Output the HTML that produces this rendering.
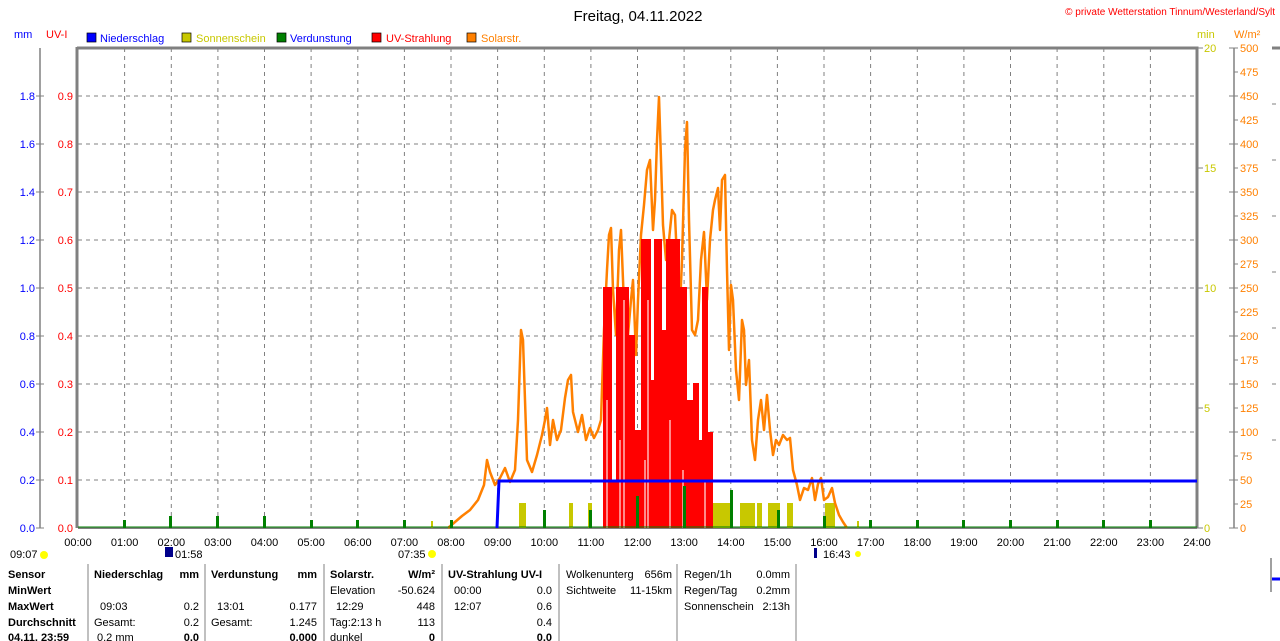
<!DOCTYPE html>
<html><head><meta charset="utf-8"><style>
body{margin:0;background:#fff;width:1280px;height:641px;overflow:hidden}
svg{display:block;font-family:"Liberation Sans",sans-serif}
</style></head><body>
<svg width="1280" height="641" viewBox="0 0 1280 641" font-size="11">
<text x="638" y="21" font-size="15" text-anchor="middle" fill="#000">Freitag, 04.11.2022</text>
<text x="1275" y="15" font-size="10" text-anchor="end" fill="#f00">© private Wetterstation Tinnum/Westerland/Sylt</text>
<text x="14" y="38" fill="#00f">mm</text>
<text x="46" y="38" fill="#f00">UV-I</text>
<rect x="87" y="33" width="9" height="9" fill="#00f" stroke="#000" stroke-width="0.7"/><text x="100" y="42" fill="#00f">Niederschlag</text>
<rect x="182" y="33" width="9" height="9" fill="#c8c800" stroke="#000" stroke-width="0.7"/><text x="196" y="42" fill="#c8c800">Sonnenschein</text>
<rect x="277" y="33" width="9" height="9" fill="#008000" stroke="#000" stroke-width="0.7"/><text x="290" y="42" fill="#00f">Verdunstung</text>
<rect x="372" y="33" width="9" height="9" fill="#f00" stroke="#000" stroke-width="0.7"/><text x="386" y="42" fill="#f00">UV-Strahlung</text>
<rect x="467" y="33" width="9" height="9" fill="#ff8000" stroke="#000" stroke-width="0.7"/><text x="481" y="42" fill="#ff8000">Solarstr.</text>
<text x="1197" y="38" fill="#c8c800">min</text>
<text x="1234" y="38" fill="#ff8000">W/m²</text>

<!-- grid -->
<g stroke="#808080" stroke-dasharray="4,4" stroke-width="1">
<path d="M78 96H1197M78 144H1197M78 192H1197M78 240H1197M78 288H1197M78 336H1197M78 384H1197M78 432H1197M78 480H1197"/>
<path d="M124.6 48V528M171.3 48V528M217.9 48V528M264.5 48V528M311.1 48V528M357.8 48V528M404.4 48V528M451 48V528M497.6 48V528M544.3 48V528M590.9 48V528M637.5 48V528M684.1 48V528M730.8 48V528M777.4 48V528M824 48V528M870.6 48V528M917.3 48V528M963.9 48V528M1010.5 48V528M1057.1 48V528M1103.8 48V528M1150.4 48V528"/>
<path d="M1272 48H1280M1272 104H1280M1272 160H1280M1272 216H1280M1272 272H1280M1272 328H1280M1272 384H1280M1272 440H1280"/>
</g>
<!-- axes -->
<g stroke="#808080">
<path d="M40 48V528M1234 48V528M1271 558V592" stroke-width="1.5"/>
<path d="M77 48H1197V528M77 47V528" stroke-width="3" fill="none"/>
<path d="M78 528H1197" stroke-width="2"/>
<path d="M36 96H44M36 144H44M36 192H44M36 240H44M36 288H44M36 336H44M36 384H44M36 432H44M36 480H44M36 528H44M1197 48h6M1197 168h6M1197 288h6M1197 408h6M1197 528h6"/>
<path d="M1229 48h9M1234 72h4M1229 96h9M1234 120h4M1229 144h9M1234 168h4M1229 192h9M1234 216h4M1229 240h9M1234 264h4M1229 288h9M1234 312h4M1229 336h9M1234 360h4M1229 384h9M1234 408h4M1229 432h9M1234 456h4M1229 480h9M1234 504h4M1229 528h9"/>
<path d="M1272 48H1280" stroke-width="3"/>
</g>
<g fill="#00f" text-anchor="end">
<text x="35" y="100">1.8</text><text x="35" y="148">1.6</text><text x="35" y="196">1.4</text><text x="35" y="244">1.2</text><text x="35" y="292">1.0</text><text x="35" y="340">0.8</text><text x="35" y="388">0.6</text><text x="35" y="436">0.4</text><text x="35" y="484">0.2</text><text x="35" y="532">0.0</text>
</g>
<g fill="#f00" text-anchor="end">
<text x="73" y="100">0.9</text><text x="73" y="148">0.8</text><text x="73" y="196">0.7</text><text x="73" y="244">0.6</text><text x="73" y="292">0.5</text><text x="73" y="340">0.4</text><text x="73" y="388">0.3</text><text x="73" y="436">0.2</text><text x="73" y="484">0.1</text><text x="73" y="532">0.0</text>
</g>
<g fill="#c8c800"><text x="1204" y="52">20</text><text x="1204" y="172">15</text><text x="1204" y="292">10</text><text x="1204" y="412">5</text><text x="1204" y="532">0</text></g>
<g fill="#ff8000" font-size="11">
<text x="1240" y="52">500</text><text x="1240" y="76">475</text><text x="1240" y="100">450</text><text x="1240" y="124">425</text><text x="1240" y="148">400</text><text x="1240" y="172">375</text><text x="1240" y="196">350</text><text x="1240" y="220">325</text><text x="1240" y="244">300</text><text x="1240" y="268">275</text><text x="1240" y="292">250</text><text x="1240" y="316">225</text><text x="1240" y="340">200</text><text x="1240" y="364">175</text><text x="1240" y="388">150</text><text x="1240" y="412">125</text><text x="1240" y="436">100</text><text x="1240" y="460">75</text><text x="1240" y="484">50</text><text x="1240" y="508">25</text><text x="1240" y="532">0</text>
</g>
<g fill="#000" text-anchor="middle">
<text x="78" y="546">00:00</text><text x="124.6" y="546">01:00</text><text x="171.3" y="546">02:00</text><text x="217.9" y="546">03:00</text><text x="264.5" y="546">04:00</text><text x="311.1" y="546">05:00</text><text x="357.8" y="546">06:00</text><text x="404.4" y="546">07:00</text><text x="451" y="546">08:00</text><text x="497.6" y="546">09:00</text><text x="544.3" y="546">10:00</text><text x="590.9" y="546">11:00</text><text x="637.5" y="546">12:00</text><text x="684.1" y="546">13:00</text><text x="730.8" y="546">14:00</text><text x="777.4" y="546">15:00</text><text x="824" y="546">16:00</text><text x="870.6" y="546">17:00</text><text x="917.3" y="546">18:00</text><text x="963.9" y="546">19:00</text><text x="1010.5" y="546">20:00</text><text x="1057.1" y="546">21:00</text><text x="1103.8" y="546">22:00</text><text x="1150.4" y="546">23:00</text><text x="1197" y="546">24:00</text>
</g>

<!-- sunshine -->
<g fill="#c8c800">
<rect x="519" y="503" width="7" height="25"/><rect x="569" y="503" width="4" height="25"/><rect x="588" y="503" width="4" height="25"/>
<rect x="605" y="503" width="105" height="25"/><rect x="713" y="503" width="17" height="25"/><rect x="740" y="503" width="15" height="25"/><rect x="757" y="503" width="5" height="25"/><rect x="768" y="503" width="12" height="25"/><rect x="787" y="503" width="6" height="25"/><rect x="825" y="503" width="10" height="25"/>
<rect x="431" y="521" width="2" height="7"/><rect x="857" y="521" width="2" height="7"/>
</g>

<!-- solar -->
<polyline fill="none" stroke="#ff8000" stroke-width="2.5" stroke-linejoin="round" points="448,528 455,522 462,516 470,510 478,500 484,485 487,460 490,472 495,485 500,478 505,468 510,482 515,470 518,420 521,330 523,340 525,400 527,460 532,472 537,455 542,435 545,420 547,408 550,445 553,420 557,440 561,430 565,398 568,380 571,375 573,412 578,432 582,415 586,440 590,428 594,438 598,430 601,420 604,330 607,270 609,235 611,228 613,290 616,335 619,250 621,230 624,305 628,335 631,300 633,280 636,355 638,300 641,235 644,205 647,170 650,160 653,230 655,200 657,140 659,97 661,160 663,225 666,260 669,240 672,210 675,215 677,260 679,330 682,260 685,150 687,122 689,220 692,330 695,335 698,320 701,260 704,232 707,300 710,240 713,210 715,200 718,188 720,230 722,180 725,175 727,270 729,350 731,285 733,300 736,370 739,400 742,320 744,330 746,385 749,360 752,440 755,460 758,420 761,400 764,430 767,395 770,430 773,455 776,440 779,445 783,435 787,440 790,438 793,470 797,485 800,500 804,488 808,490 812,478 815,500 818,484 821,478 824,500 828,497 832,488 835,503 839,515 843,522 847,528"/>

<!-- UV -->
<g fill="#f00">
<rect x="603" y="287" width="9" height="241"/>
<rect x="616" y="287" width="13" height="241"/>
<rect x="629" y="335" width="6" height="193"/>
<rect x="641" y="239" width="10" height="289"/>
<rect x="654" y="239" width="8" height="289"/>
<rect x="666" y="239" width="14" height="289"/>
<rect x="675" y="287" width="12" height="241"/>
<rect x="693" y="383" width="6" height="145"/>
<rect x="702" y="287" width="6" height="241"/>
<rect x="708" y="432" width="5" height="96"/>
<rect x="612" y="480" width="4" height="48"/><rect x="635" y="430" width="6" height="98"/><rect x="651" y="380" width="3" height="148"/><rect x="662" y="330" width="4" height="198"/><rect x="687" y="400" width="6" height="128"/><rect x="699" y="440" width="3" height="88"/>
</g>
<g stroke="#fff" stroke-width="1.2" opacity="0.9">
<path d="M607 400V528M620 440V528M624 300V528M645 460V528M648 300V528M670 420V528M683 470V528M705 480V528"/>
</g>

<!-- evaporation -->
<g fill="#008000">
<rect x="123" y="520" width="3" height="8"/><rect x="169" y="516" width="3" height="12"/><rect x="216" y="516" width="3" height="12"/><rect x="263" y="516" width="3" height="12"/><rect x="310" y="520" width="3" height="8"/><rect x="356" y="520" width="3" height="8"/><rect x="403" y="520" width="3" height="8"/><rect x="450" y="520" width="3" height="8"/><rect x="543" y="510" width="3" height="18"/><rect x="589" y="510" width="3" height="18"/><rect x="636" y="496" width="3" height="32"/><rect x="683" y="486" width="3" height="42"/><rect x="730" y="490" width="3" height="38"/><rect x="777" y="510" width="3" height="18"/><rect x="823" y="516" width="3" height="12"/><rect x="869" y="520" width="3" height="8"/><rect x="916" y="520" width="3" height="8"/><rect x="962" y="520" width="3" height="8"/><rect x="1009" y="520" width="3" height="8"/><rect x="1056" y="520" width="3" height="8"/><rect x="1102" y="520" width="3" height="8"/><rect x="1149" y="520" width="3" height="8"/>
</g>
<path d="M78 527H1197" stroke="#008000" stroke-width="1"/>
<!-- precip -->
<path d="M497 528L499 481H1197" fill="none" stroke="#00f" stroke-width="3"/>
<path d="M1272 579H1280" stroke="#00f" stroke-width="3"/>

<!-- sunrise labels -->
<text x="10" y="558" fill="#000" font-size="11">09:07</text><circle cx="44" cy="555" r="4" fill="#ff0"/>
<rect x="165" y="547" width="8" height="10" fill="#00008b"/><text x="175" y="558" fill="#000">01:58</text>
<text x="398" y="558" fill="#000">07:35</text><circle cx="432" cy="554" r="4" fill="#ff0"/>
<rect x="814" y="548" width="3" height="10" fill="#00008b"/><text x="823" y="558" fill="#000">16:43</text><circle cx="858" cy="554" r="3" fill="#ff0"/>

<!-- table -->
<g stroke="#808080" stroke-width="1"><path d="M88 564V641M205 564V641M324 564V641M442 564V641M559 564V641M677 564V641M796 564V641"/></g>
<g fill="#000" font-size="11">
<g font-weight="bold"><text x="8" y="578">Sensor</text><text x="8" y="594">MinWert</text><text x="8" y="610">MaxWert</text><text x="8" y="626">Durchschnitt</text><text x="8" y="641">04.11. 23:59</text>
<text x="94" y="578">Niederschlag</text><text x="199" y="578" text-anchor="end">mm</text>
<text x="211" y="578">Verdunstung</text><text x="317" y="578" text-anchor="end">mm</text>
<text x="330" y="578">Solarstr.</text><text x="435" y="578" text-anchor="end">W/m²</text>
<text x="448" y="578">UV-Strahlung UV-I</text>
<text x="199" y="641" text-anchor="end">0.0</text><text x="317" y="641" text-anchor="end">0.000</text><text x="435" y="641" text-anchor="end">0</text><text x="552" y="641" text-anchor="end">0.0</text></g>
<text x="100" y="610">09:03</text><text x="199" y="610" text-anchor="end">0.2</text>
<text x="94" y="626">Gesamt:</text><text x="199" y="626" text-anchor="end">0.2</text><text x="97" y="641">0.2 mm</text>
<text x="217" y="610">13:01</text><text x="317" y="610" text-anchor="end">0.177</text>
<text x="211" y="626">Gesamt:</text><text x="317" y="626" text-anchor="end">1.245</text>
<text x="330" y="594">Elevation</text><text x="435" y="594" text-anchor="end">-50.624</text>
<text x="336" y="610">12:29</text><text x="435" y="610" text-anchor="end">448</text>
<text x="330" y="626">Tag:2:13 h</text><text x="435" y="626" text-anchor="end">113</text><text x="330" y="641">dunkel</text>
<text x="454" y="594">00:00</text><text x="552" y="594" text-anchor="end">0.0</text>
<text x="454" y="610">12:07</text><text x="552" y="610" text-anchor="end">0.6</text>
<text x="552" y="626" text-anchor="end">0.4</text>
<text x="566" y="578">Wolkenunterg</text><text x="672" y="578" text-anchor="end">656m</text>
<text x="566" y="594">Sichtweite</text><text x="672" y="594" text-anchor="end">11-15km</text>
<text x="684" y="578">Regen/1h</text><text x="790" y="578" text-anchor="end">0.0mm</text>
<text x="684" y="594">Regen/Tag</text><text x="790" y="594" text-anchor="end">0.2mm</text>
<text x="684" y="610">Sonnenschein</text><text x="790" y="610" text-anchor="end">2:13h</text>
</g>
</svg>
</body></html>
